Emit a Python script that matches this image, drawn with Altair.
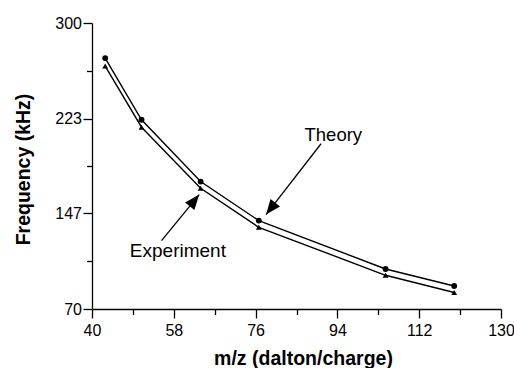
import altair as alt
import pandas as pd

# ---- data ----
mz = [42.9, 50.9, 63.9, 76.7, 104.6, 119.7]
theory = [271.8, 222.2, 172.5, 141.1, 102.2, 88.5]
experiment = [265.4, 216.2, 167.1, 135.7, 97.1, 83.3]

x_ticks = [40, 58, 76, 94, 112, 130]
x_minor = [49, 67, 85, 103, 121]
y_ticks = [70, 147, 223, 300]
y_minor = [108.5, 185, 261.5]

# annotations (data coordinates)
label_text = ["Theory", "Experiment"]
label_x = [93.1, 58.9]
label_y = [205.0, 111.5]
label_size = [18.5, 19]

arrow_name = ["Theory", "Theory", "Experiment", "Experiment"]
arrow_x = [90.4, 78.3, 55.3, 63.6]
arrow_y = [202.9, 145.9, 125.0, 162.0]
head_x = [78.3, 63.6]
head_y = [145.9, 162.0]
head_angle = [217.9, 39.4]

# ---- tables ----
series_df = pd.DataFrame({
    "mz": mz + mz,
    "freq": theory + experiment,
    "series": ["Theory"] * len(mz) + ["Experiment"] * len(mz),
})
labels_df = pd.DataFrame({"text": label_text, "x": label_x, "y": label_y, "size": label_size})
shaft_df = pd.DataFrame({"arrow": arrow_name, "x": arrow_x, "y": arrow_y, "o": [0, 1, 0, 1]})
head_df = pd.DataFrame({"x": head_x, "y": head_y, "angle": head_angle})

FONT = "Liberation Sans"
xs = alt.Scale(domain=[40, 130], nice=False, zero=False)
ys = alt.Scale(domain=[70, 300], nice=False, zero=False)

common_axis = dict(
    grid=False, domainColor="black", domainWidth=1.3, tickColor="black",
    tickWidth=1.3, labelColor="black", labelFont=FONT, labelFontSize=16,
    labelFlush=False, labelOverlap=False, titleColor="black", titleFont=FONT,
    titleFontSize=19.5, titleFontWeight="bold",
)

x_major = alt.Axis(values=x_ticks, tickSize=9, labelPadding=4, orient="bottom",
                   title="m/z (dalton/charge)", titleX=211, titleY=55,
                   titleBaseline="alphabetic", **common_axis)
y_major = alt.Axis(values=y_ticks, tickSize=9, labelPadding=1.5, orient="left",
                   title="Frequency (kHz)", titleX=-63, titleY=146, titleAngle=270,
                   titleBaseline="alphabetic", **common_axis)

lines = alt.Chart(series_df).mark_line(color="black", strokeWidth=1.4).encode(
    x=alt.X("mz:Q", scale=xs, axis=x_major),
    y=alt.Y("freq:Q", scale=ys, axis=y_major),
    detail="series:N",
)

points = alt.Chart(series_df).mark_point(filled=True, opacity=1, color="black", size=34).encode(
    x=alt.X("mz:Q", scale=xs, axis=None),
    y=alt.Y("freq:Q", scale=ys, axis=None),
    shape=alt.Shape("series:N", scale=alt.Scale(domain=["Theory", "Experiment"],
                                                range=["circle", "triangle-up"]), legend=None),
)

minor = alt.Chart(series_df).mark_point(opacity=0).encode(
    x=alt.X("mz:Q", scale=xs, axis=alt.Axis(values=x_minor, labels=False, domain=False,
                                            tickSize=5.5, tickWidth=1.3, tickColor="black",
                                            grid=False, title=None, orient="bottom")),
    y=alt.Y("freq:Q", scale=ys, axis=alt.Axis(values=y_minor, labels=False, domain=False,
                                              tickSize=5.5, tickWidth=1.3, tickColor="black",
                                              grid=False, title=None, orient="left")),
)

shafts = alt.Chart(shaft_df).mark_line(color="black", strokeWidth=1.3).encode(
    x=alt.X("x:Q", scale=xs, axis=None),
    y=alt.Y("y:Q", scale=ys, axis=None),
    detail="arrow:N",
    order="o:Q",
)

heads = alt.Chart(head_df).mark_point(
    shape="M0,0L-0.4,1L0.4,1Z", filled=True, opacity=1, color="black", size=900
).encode(
    x=alt.X("x:Q", scale=xs, axis=None),
    y=alt.Y("y:Q", scale=ys, axis=None),
    angle=alt.Angle("angle:Q", scale=None),
)

texts = alt.Chart(labels_df).mark_text(font=FONT, color="black", align="center",
                                       baseline="alphabetic").encode(
    x=alt.X("x:Q", scale=xs, axis=None),
    y=alt.Y("y:Q", scale=ys, axis=None),
    text="text:N",
    size=alt.Size("size:Q", scale=None),
)

chart = alt.layer(lines, minor, points, shafts, heads, texts).resolve_axis(
    x="independent", y="independent"
).properties(
    width=409, height=286,
    autosize=alt.AutoSizeParams(type="none"),
    padding={"left": 92, "top": 23, "right": 13, "bottom": 59},
    background="white",
).configure_view(stroke=None)

chart.save("out.html", embed_options={"renderer": "svg", "actions": False})
